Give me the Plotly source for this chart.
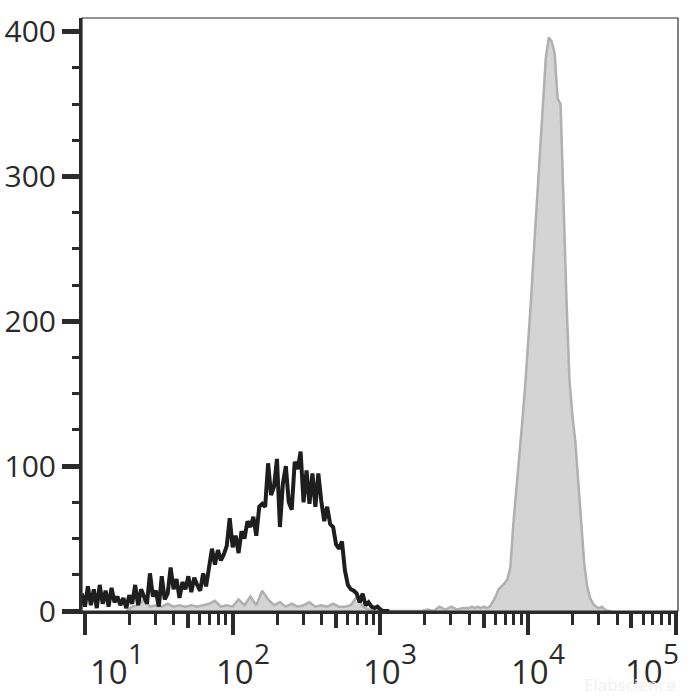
import numpy as np
import plotly.graph_objects as go

# black histogram (log10 fluorescence, count)
black_x = [
    0.98, 1.00, 1.02, 1.04, 1.06, 1.08, 1.10, 1.12, 1.14, 1.16,
    1.18, 1.20, 1.22, 1.24, 1.26, 1.28, 1.30, 1.32, 1.34, 1.36,
    1.38, 1.40, 1.42, 1.44, 1.46, 1.48, 1.50, 1.52, 1.54, 1.56,
    1.58, 1.60, 1.62, 1.64, 1.66, 1.68, 1.70, 1.72, 1.74, 1.76,
    1.78, 1.80, 1.82, 1.84, 1.86, 1.88, 1.90, 1.92, 1.94, 1.96,
    1.98, 2.00, 2.02, 2.04, 2.06, 2.08, 2.10, 2.12, 2.14, 2.16,
    2.18, 2.20, 2.22, 2.24, 2.26, 2.28, 2.30, 2.32, 2.34, 2.36,
    2.38, 2.40, 2.42, 2.44, 2.46, 2.48, 2.50, 2.52, 2.54, 2.56,
    2.58, 2.60, 2.62, 2.64, 2.66, 2.68, 2.70, 2.72, 2.74, 2.76,
    2.78, 2.80, 2.82, 2.84, 2.86, 2.88, 2.90, 2.92, 2.94, 2.96,
    2.98, 3.00, 3.02, 3.04, 3.06,
]
black_y = [
    12, 3, 17, 4, 15, 2, 18, 5, 14, 3,
    16, 6, 10, 4, 9, 2, 11, 5, 18, 4,
    15, 9, 5, 26, 10, 14, 3, 24, 8, 12,
    30, 15, 22, 9, 20, 15, 24, 13, 23, 18,
    14, 26, 17, 30, 43, 32, 42, 35, 39, 45,
    64, 44, 52, 40, 55, 50, 62, 58, 65, 52,
    72, 74, 72, 102, 80, 86, 105, 58, 88, 100,
    75, 70, 103, 98, 110, 75, 97, 74, 95, 72,
    95, 76, 62, 72, 60, 58, 46, 43, 48, 28,
    18, 15, 14, 12, 6, 12, 4, 6, 3, 2,
    3, 1, 0, 0, 0,
]

# grey filled histogram
grey_x = [
    1.28, 1.32, 1.36, 1.40, 1.44, 1.48, 1.52, 1.56, 1.60, 1.64,
    1.68, 1.72, 1.76, 1.80, 1.84, 1.88, 1.92, 1.96, 2.00, 2.04,
    2.08, 2.12, 2.16, 2.20, 2.24, 2.28, 2.32, 2.36, 2.40, 2.44,
    2.48, 2.52, 2.56, 2.60, 2.64, 2.68, 2.72, 2.76, 2.80, 2.84,
    2.88, 2.92, 2.96, 3.00, 3.04, 3.08, 3.12, 3.16, 3.20, 3.24,
    3.28, 3.32, 3.36, 3.40, 3.44, 3.48, 3.52, 3.56,
    3.60, 3.62, 3.64, 3.66, 3.68, 3.70, 3.72, 3.74, 3.76, 3.78,
    3.80, 3.82, 3.84, 3.86, 3.88, 3.90, 3.92, 3.94, 3.96, 3.98,
    4.00, 4.02, 4.04, 4.06, 4.08, 4.10, 4.12, 4.14, 4.16, 4.18,
    4.20, 4.22, 4.24, 4.26, 4.28, 4.30, 4.32, 4.34, 4.36, 4.38,
    4.40, 4.42, 4.44, 4.46, 4.48, 4.50, 4.52, 4.54, 4.56,
]
grey_y = [
    0, 3, 4, 8, 3, 4, 3, 5, 3, 4,
    3, 4, 3, 4, 5, 7, 3, 4, 3, 8,
    4, 10, 4, 14, 8, 4, 6, 3, 5, 3,
    4, 6, 3, 4, 3, 5, 3, 3, 4, 10,
    3, 1, 0, 0, 0, 0, 0, 0, 0, 0,
    0, 1, 0, 3, 1, 3, 1, 2,
    2, 3, 2, 3, 2, 3, 2, 3, 6, 10,
    15, 17, 19, 22, 30, 60, 82, 106, 130, 155,
    182, 215, 250, 285, 320, 355, 382, 396, 393, 385,
    354, 350, 280, 215, 160, 135, 117, 90, 60, 33,
    17, 9, 5, 3, 2, 3, 1, 0, 0,
]

x_ticks = [1, 2, 3, 4, 5]
x_tick_exp = ["1", "2", "3", "4", "5"]
y_ticks = [0, 100, 200, 300, 400]
y_minor = [25, 50, 75, 125, 150, 175, 225, 250, 275, 325, 350, 375]

x_minor = [d + np.log10(k) for d in x_ticks[:-1] for k in (2, 3, 4, 6, 7, 8, 9)]
x_mid = [d + np.log10(5) for d in x_ticks[:-1]]

AX = "#2b2b2b"
TXT = "#2a2a2a"
FONT = "Open Sans"
X_RANGE = [0.98, 5.015]

fig = go.Figure()
fig.add_trace(go.Scatter(
    x=grey_x, y=grey_y, mode="lines", fill="tozeroy",
    line=dict(color="#b0b0b0", width=2.5), fillcolor="#d4d4d4",
    showlegend=False, hoverinfo="skip",
))
fig.add_trace(go.Scatter(
    x=black_x, y=black_y, mode="lines",
    line=dict(color="#1e1e1e", width=4),
    showlegend=False, hoverinfo="skip",
))
fig.add_trace(go.Scatter(x=[], y=[], xaxis="x2", showlegend=False))

fig.add_shape(type="rect", xref="x domain", yref="y domain", x0=0, x1=1, y0=0, y1=1,
              line=dict(color=AX, width=1.2), layer="above")

# decade labels: "10" plus a large exponent, kept inside the frame at both ends
for i, (v, e) in enumerate(zip(x_ticks, x_tick_exp)):
    if i == 0:
        base_shift = 24
    elif i == len(x_ticks) - 1:
        base_shift = -32
    else:
        base_shift = 2
    fig.add_annotation(x=v, y=0, xref="x", yref="paper", text="10", showarrow=False,
                       xanchor="center", yanchor="top", xshift=base_shift, yshift=-37,
                       borderpad=0, font=dict(family=FONT, size=33, color=TXT))
    fig.add_annotation(x=v, y=0, xref="x", yref="paper", text=e, showarrow=False,
                       xanchor="center", yanchor="top", xshift=base_shift + 27, yshift=-22,
                       borderpad=0, font=dict(family=FONT, size=28, color=TXT))

fig.add_annotation(x=1, y=0, xref="paper", yref="paper", text="Elabscience", showarrow=False,
                   xanchor="right", yanchor="top", xshift=0, yshift=-60,
                   font=dict(family=FONT, size=17, color="#f0f0f0"))

fig.update_layout(
    width=700, height=700,
    margin=dict(l=82, r=22, t=18, b=89, autoexpand=False),
    paper_bgcolor="white", plot_bgcolor="white",
    xaxis=dict(
        range=X_RANGE, showgrid=False, zeroline=False, automargin=False,
        showline=True, linewidth=3, linecolor=AX,
        ticks="outside", tickvals=x_ticks, ticklen=21, tickwidth=4, tickcolor=AX,
        showticklabels=False,
        minor=dict(tickvals=x_minor, ticks="outside", ticklen=11, tickwidth=3, tickcolor=AX),
    ),
    xaxis2=dict(
        range=X_RANGE, overlaying="x", anchor="y", side="bottom", automargin=False,
        showgrid=False, zeroline=False, showline=False,
        ticks="outside", tickvals=x_mid, ticklen=16, tickwidth=3.5, tickcolor=AX,
        showticklabels=False,
    ),
    yaxis=dict(
        range=[0, 409.5], showgrid=False, zeroline=False, automargin=False,
        showline=True, linewidth=3, linecolor=AX,
        ticks="outside", tickvals=y_ticks, ticklen=17, tickwidth=4.5, tickcolor=AX,
        tickfont=dict(family=FONT, size=30, color=TXT),
        minor=dict(tickvals=y_minor, ticks="outside", ticklen=7, tickwidth=3, tickcolor=AX),
    ),
)

fig.write_html("out.html", config={"displayModeBar": False},
               post_script="document.body.style.margin='0';")
